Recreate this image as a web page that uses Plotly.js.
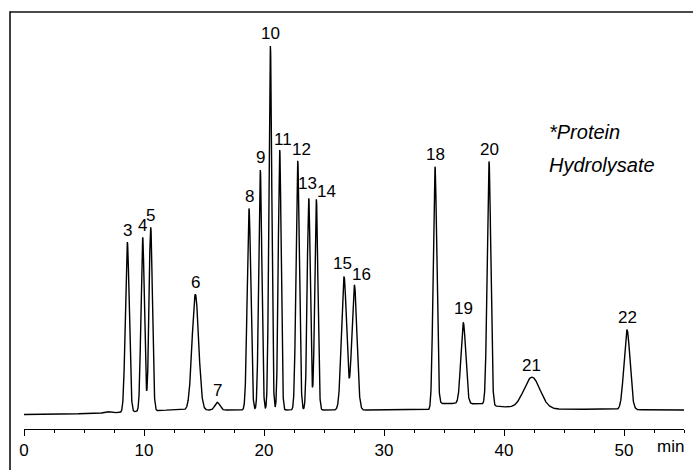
<!DOCTYPE html>
<html>
<head>
<meta charset="utf-8">
<script src="https://cdn.plot.ly/plotly-3.0.1.min.js"></script>
<style>
  html, body { margin: 0; padding: 0; background: #fff; }
  #chart { width: 693px; height: 470px; }
</style>
</head>
<body>
<div id="chart"></div>
<script>
// ---- Data (time in min, signal in arbitrary units) ----
const peakLabels  = ['3','4','5','6','7','8','9','10','11','12','13','14','15','16','18','19','20','21','22',''];
const peakTimes   = [8.61, 9.89, 10.56, 14.28, 16.11, 18.75, 19.69, 20.53, 21.31, 22.81, 23.73, 24.36, 26.67, 27.53, 34.25, 36.61, 38.75, 42.33, 50.25, 6.9];
const peakHeights = [170, 174, 183.6, 115.7, 7.7, 201.5, 240, 364, 260, 249.3, 211.7, 210.7, 133.3, 125, 243.3, 80.8, 243.3, 31.3, 79.7, 1.5];
const peakSigmas  = [0.16, 0.14, 0.14, 0.27, 0.2, 0.15, 0.13, 0.12, 0.12, 0.14, 0.13, 0.13, 0.21, 0.21, 0.15, 0.2, 0.15, 0.67, 0.25, 0.25];

// baseline level read at a few times
const baselineTimes  = [0, 6, 8, 12, 33, 34.4, 34.7, 36, 38.5, 39.2, 41, 44, 49, 55];
const baselineLevels = [-0.5, 0.5, 1.5, 4, 4, 4, 10.5, 10.5, 10, 8, 6, 5, 4.5, 4];

const xTickVals = [0, 10, 20, 30, 40, 50];
const xUnitLabel = 'min';
const noteLines = ['*Protein', 'Hydrolysate'];

// ---- build signal ----
function baselineAt(t) {
  for (let i = 0; i < baselineTimes.length - 1; i++) {
    const a = baselineTimes[i], b = baselineTimes[i + 1];
    if (t >= a && t <= b) {
      const f = (t - a) / (b - a);
      return baselineLevels[i] + f * (baselineLevels[i + 1] - baselineLevels[i]);
    }
  }
  return baselineLevels[baselineLevels.length - 1];
}
function signalAt(t) {
  let v = baselineAt(t);
  for (let i = 0; i < peakTimes.length; i++) {
    const d = t - peakTimes[i];
    v += peakHeights[i] * Math.exp(-d * d / (2 * peakSigmas[i] * peakSigmas[i]));
  }
  return v;
}
const tx = [], ty = [];
for (let k = 0; k <= 5500; k++) {
  const t = k * 0.01;
  tx.push(t);
  ty.push(signalAt(t));
}

const FONT = 'Liberation Sans, Arial, Helvetica, sans-serif';

// label offsets (px) for readability, matching the reference placement
const labelShift = { '11': [3, 11], '12': [4, 11], '13': [-1, 15], '14': [10, 8], '15': [-2, 13], '16': [7, 10], '19': [0, 14], '9': [0, 13], '10': [0, 13] };

const annotations = [];
peakLabels.forEach((lab, i) => {
  if (!lab) return;
  const s = labelShift[lab] || [0, 12];
  annotations.push({
    x: peakTimes[i], y: signalAt(peakTimes[i]), xref: 'x', yref: 'y',
    text: lab, showarrow: false, xanchor: 'center', yanchor: 'middle',
    xshift: s[0], yshift: s[1], borderpad: 0,
    font: { family: FONT, size: 17, color: '#000' }
  });
});
annotations.push({
  x: 53.9, y: -0.043, xref: 'x', yref: 'paper', text: xUnitLabel, showarrow: false,
  xanchor: 'center', yanchor: 'middle', font: { family: FONT, size: 17, color: '#000' }
});
annotations.push({
  x: 43.55, y: 282, xref: 'x', yref: 'y', text: '<i>' + noteLines[0] + '</i>', showarrow: false,
  xanchor: 'left', yanchor: 'middle', font: { family: FONT, size: 20, color: '#000' }
});
annotations.push({
  x: 43.55, y: 249, xref: 'x', yref: 'y', text: '<i>' + noteLines[1] + '</i>', showarrow: false,
  xanchor: 'left', yanchor: 'middle', font: { family: FONT, size: 20, color: '#000' }
});

const trace = {
  x: tx, y: ty, type: 'scatter', mode: 'lines',
  line: { color: '#000', width: 1.4 }, hoverinfo: 'skip'
};

const layout = {
  width: 693, height: 470,
  margin: { l: 24, r: 9, t: 12, b: 41 },
  paper_bgcolor: '#fff', plot_bgcolor: '#fff',
  showlegend: false,
  xaxis: {
    range: [0, 55], showgrid: false, zeroline: false,
    showline: true, linecolor: '#000', linewidth: 1,
    ticks: 'outside', ticklen: 6, tickwidth: 1, tickcolor: '#000',
    tickmode: 'array', tickvals: xTickVals, ticktext: xTickVals.map(String),
    tickfont: { family: FONT, size: 17, color: '#000' },
    minor: { dtick: 2.5, tick0: 0, ticks: 'outside', ticklen: 3, tickwidth: 1, tickcolor: '#000', showgrid: false },
    fixedrange: true
  },
  yaxis: { range: [-15, 402], visible: false, fixedrange: true },
  annotations: annotations,
  shapes: [
    { type: 'line', xref: 'paper', yref: 'paper', x0: -0.0212, x1: -0.0212, y0: 1.002, y1: -0.15, line: { color: '#111', width: 1.6 } },
    { type: 'line', xref: 'paper', yref: 'paper', x0: -0.0212, x1: 1.03, y0: 1, y1: 1, line: { color: '#111', width: 1.6 } }
  ]
};

Plotly.newPlot('chart', [trace], layout, { displayModeBar: false, staticPlot: true });
</script>
</body>
</html>
